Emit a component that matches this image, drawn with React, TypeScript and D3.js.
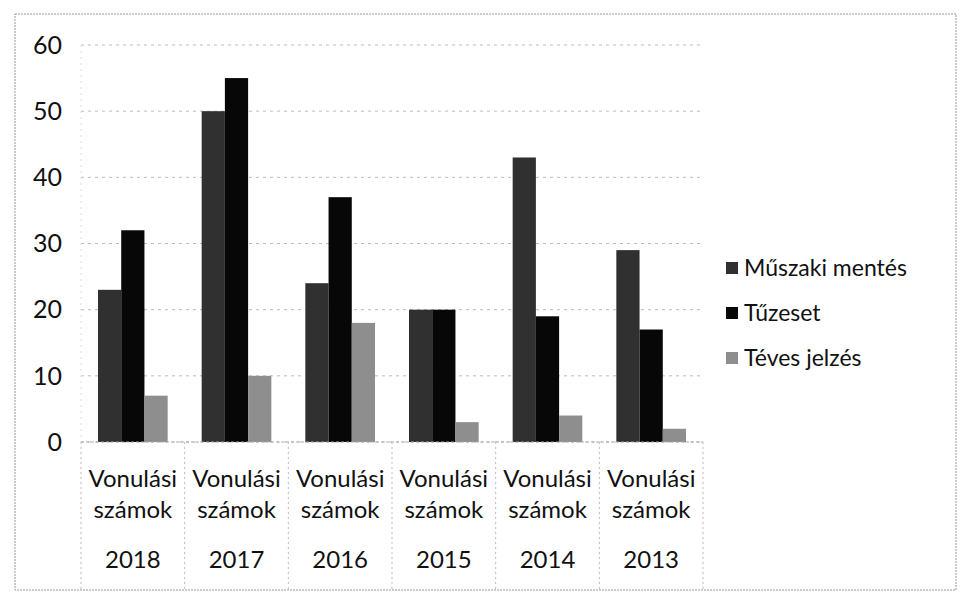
import React from "react";
import * as d3 from "d3";

const categories = ["2018", "2017", "2016", "2015", "2014", "2013"];
const catLine1 = "Vonulási";
const catLine2 = "számok";
const seriesNames = ["Műszaki mentés", "Tűzeset", "Téves jelzés"];
const muszaki = [23, 50, 24, 20, 43, 29];
const tuzeset = [32, 55, 37, 20, 19, 17];
const teves = [7, 10, 18, 3, 4, 2];
const yTicks = [0, 10, 20, 30, 40, 50, 60];

const colors = ["#303030", "#070707", "#8e8e8e"];
const font = "Lato, 'Open Sans', sans-serif";

const App = () => {
    const width = 960;
    const height = 597;
    const seriesValues = [muszaki, tuzeset, teves];

    const x = d3.scaleBand().domain(categories).range([81, 703]);
    const xInner = d3
        .scaleBand()
        .domain(seriesNames)
        .range([17, x.bandwidth() - 17]);
    const y = d3.scaleLinear().domain([0, 60]).range([442, 45]);

    return (
        <svg width={width} height={height} style={{position: "absolute", left: 0, top: 0, background: "#fff"}}>
            <rect x={15} y={14} width={941} height={576} fill="none" stroke="#999" strokeDasharray="2,1" strokeWidth={1}/>

            {/* gridlines */}
            {yTicks.map(t => (
                <line key={t} x1={81} x2={703} y1={y(t)} y2={y(t)} stroke="#bbb" strokeDasharray="3,4" strokeWidth={1}/>
            ))}
            <line x1={81} x2={81} y1={y(60)} y2={y(0)} stroke="#ddd" strokeDasharray="2,4"/>

            {/* y labels */}
            {yTicks.map(t => (
                <text key={t} x={62} y={y(t)} dy="0.35em" textAnchor="end" fontFamily={font} fontSize={25} fill="#111">
                    {t}
                </text>
            ))}

            {/* bars */}
            {categories.map((c, i) => (
                <g key={c} transform={`translate(${x(c)},0)`}>
                    {seriesNames.map((s, j) => (
                        <rect
                            key={s}
                            x={xInner(s)}
                            y={y(seriesValues[j][i])}
                            width={xInner.bandwidth()}
                            height={y(0) - y(seriesValues[j][i])}
                            fill={colors[j]}
                        />
                    ))}
                </g>
            ))}

            {/* category table */}
            <line x1={81} x2={703} y1={y(0)} y2={y(0)} stroke="#aaa" strokeDasharray="3,2"/>
            {[...categories.map(c => x(c)), 703].map((v, i) => (
                <line key={i} x1={v} x2={v} y1={y(0)} y2={590} stroke="#bbb" strokeDasharray="2,3"/>
            ))}
            {categories.map(c => {
                const cx = x(c) + x.bandwidth() / 2;
                return (
                    <g key={c} fontFamily={font} fontSize={24} fill="#111" textAnchor="middle">
                        <text x={cx} y={487}>{catLine1}</text>
                        <text x={cx} y={518}>{catLine2}</text>
                        <text x={cx} y={568}>{c}</text>
                    </g>
                );
            })}

            {/* legend */}
            {seriesNames.map((s, j) => (
                <g key={s} transform={`translate(726,${268 + j * 45})`}>
                    <rect x={0} y={-6} width={12} height={12} fill={colors[j]}/>
                    <text x={18} y={0} dy="0.35em" fontFamily={font} fontSize={23} fill="#111">{s}</text>
                </g>
            ))}
        </svg>
    );
};

export default App;
